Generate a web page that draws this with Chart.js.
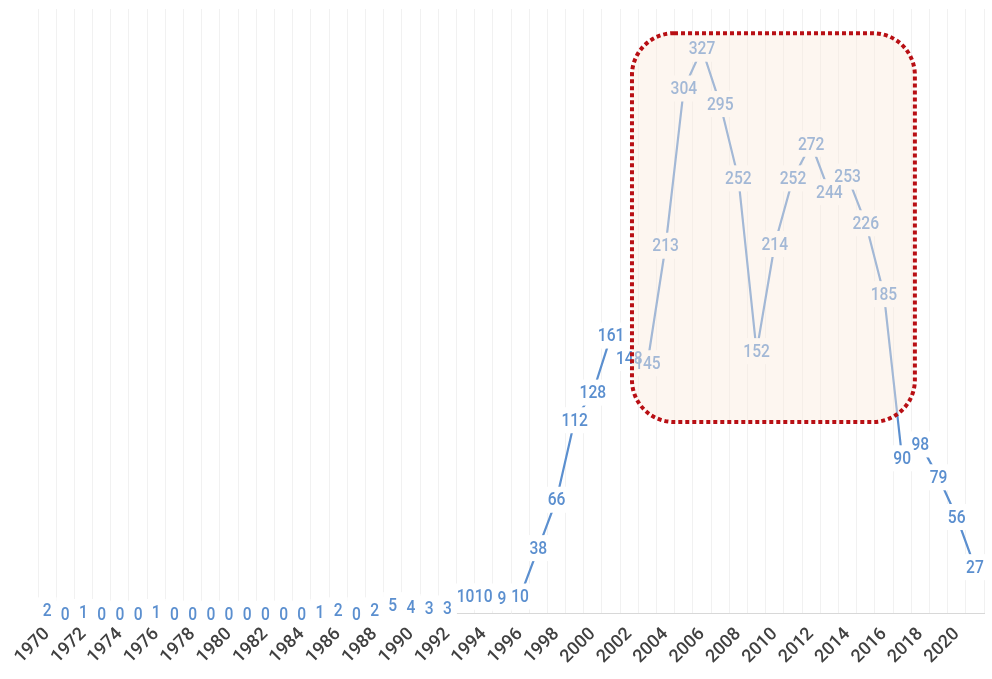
<!DOCTYPE html>
<html>
<head>
<meta charset="utf-8">
<script src="https://cdn.jsdelivr.net/npm/chart.js@4/dist/chart.umd.min.js"></script>
<style>
  html, body { margin: 0; padding: 0; background: #ffffff; }
  #wrap { width: 992px; height: 679px; }
</style>
</head>
<body>
<div id="wrap"><canvas id="chart" width="992" height="679"></canvas></div>
<script>
// Yearly counts, 1970-2021
const years = [
  1970, 1971, 1972, 1973, 1974, 1975, 1976, 1977, 1978, 1979,
  1980, 1981, 1982, 1983, 1984, 1985, 1986, 1987, 1988, 1989,
  1990, 1991, 1992, 1993, 1994, 1995, 1996, 1997, 1998, 1999,
  2000, 2001, 2002, 2003, 2004, 2005, 2006, 2007, 2008, 2009,
  2010, 2011, 2012, 2013, 2014, 2015, 2016, 2017, 2018, 2019,
  2020, 2021
];
const counts = [
  2, 0, 1, 0, 0, 0, 1, 0, 0, 0,
  0, 0, 0, 0, 0, 1, 2, 0, 2, 5,
  4, 3, 3, 10, 10, 9, 10, 38, 66, 112,
  128, 161, 148, 145, 213, 304, 327, 295, 252, 152,
  214, 252, 272, 244, 253, 226, 185, 90, 98, 79,
  56, 27
];
// Only every second year gets an axis label
const tickYears = years.filter(y => y % 2 === 0).map(String);

// Highlighted period (fractional year positions and value range)
const highlightFrom = 2002.15;
const highlightTo = 2017.7;
const highlightLow = 111;
const highlightHigh = 336;

const labelFont = "Roboto, 'DejaVu Sans', sans-serif";
const lineBlue = '#5b8fcf';

// Value labels sit on their points with a white plate that hides the line beneath,
// then the highlighted period is washed over and outlined with a dotted border.
const valueLabels = {
  id: 'valueLabels',
  afterDatasetsDraw(chart) {
    const ctx = chart.ctx;
    const meta = chart.getDatasetMeta(0);
    const xs = chart.scales.x, ys = chart.scales.y;
    const squeeze = 0.82;
    const band = xs.width / years.length;
    ctx.save();
    ctx.font = '500 19px ' + labelFont;
    ctx.textAlign = 'center';
    ctx.textBaseline = 'middle';
    const items = meta.data.map((pt, i) => ({ x: pt.x, y: pt.y, t: String(counts[i]) }));
    ctx.fillStyle = '#ffffff';
    items.forEach(it => {
      const w = Math.max(ctx.measureText(it.t).width * squeeze + 8, band + 1);
      ctx.fillRect(it.x - w / 2, it.y - 13, w, 26);
    });
    ctx.fillStyle = lineBlue;
    items.forEach(it => {
      ctx.save();
      ctx.translate(it.x, it.y + 1);
      ctx.scale(squeeze, 1);
      ctx.fillText(it.t, 0, 0);
      ctx.restore();
    });

    // highlighted block
    const i0 = years.indexOf(Math.floor(highlightFrom)) + (highlightFrom % 1);
    const i1 = years.indexOf(Math.floor(highlightTo)) + (highlightTo % 1);
    const left = xs.getPixelForValue(i0);
    const right = xs.getPixelForValue(i1);
    const top = ys.getPixelForValue(highlightHigh);
    const bottom = ys.getPixelForValue(highlightLow);
    const r = 42;
    ctx.beginPath();
    ctx.roundRect(left, top, right - left, bottom - top, r);
    ctx.fillStyle = 'rgba(250, 236, 222, 0.45)';
    ctx.fill();
    ctx.setLineDash([4, 3]);
    ctx.lineWidth = 4;
    ctx.strokeStyle = '#b80f14';
    ctx.stroke();
    ctx.restore();
  }
};

new Chart(document.getElementById('chart'), {
  type: 'line',
  data: {
    labels: years.map(String),
    datasets: [{
      data: counts,
      borderColor: lineBlue,
      borderWidth: 2.2,
      pointRadius: 0,
      tension: 0,
      fill: false
    }]
  },
  options: {
    responsive: false,
    animation: false,
    events: [],
    layout: { padding: { top: 9, left: 38, right: 8, bottom: 1 } },
    plugins: { legend: { display: false }, tooltip: { enabled: false } },
    scales: {
      x: {
        offset: true,
        afterFit(scale) {
          // the last year has no label, so no room is needed on the right
          scale.paddingRight = 0;
        },
        grid: { color: '#f1f1f1', offset: true, drawTicks: false },
        border: { display: true, color: '#d8d8d8', width: 1 },
        ticks: {
          autoSkip: false,
          minRotation: 45,
          maxRotation: 45,
          padding: 10,
          color: '#404040',
          font: { family: labelFont, size: 18, weight: '500' },
          callback(value, index) {
            const label = String(years[index]);
            return tickYears.includes(label) ? label : '';
          }
        }
      },
      y: {
        display: false,
        min: 0,
        max: 350
      }
    }
  },
  plugins: [valueLabels]
});
</script>
</body>
</html>
